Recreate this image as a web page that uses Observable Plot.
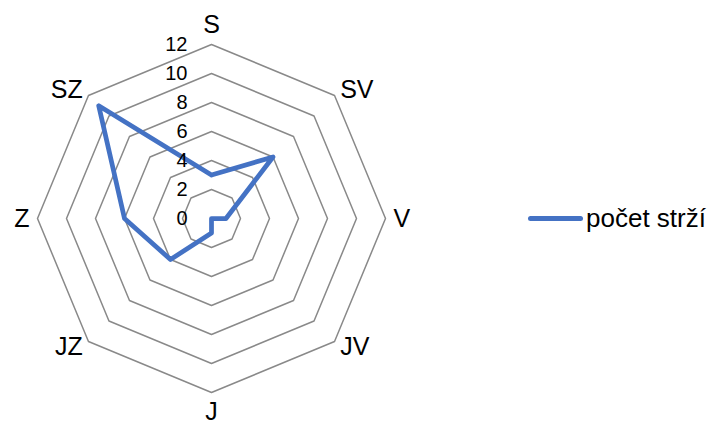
<!DOCTYPE html>
<html>
<head>
<meta charset="utf-8">
<script src="https://cdn.jsdelivr.net/npm/d3@7"></script>
<script src="https://cdn.jsdelivr.net/npm/@observablehq/plot@0.6"></script>
<style>
  html, body { margin: 0; padding: 0; background: #fff; }
  #wrap { position: relative; width: 712px; height: 423px; font-family: "Liberation Sans", Arial, sans-serif; }
  #legend { position: absolute; left: 528px; top: 203px; display: flex; align-items: center; font-size: 26px; color: #000; }
  #legend .sw { width: 55px; height: 5px; background: #4472C4; border-radius: 3px; margin-right: 3px; }
</style>
</head>
<body>
<div id="wrap"><div id="legend"><span class="sw"></span><span id="legendText"></span></div></div>
<script>
const categories = ["S", "SV", "V", "JV", "J", "JZ", "Z", "SZ"];
const values = [3, 6, 1, 0, 1, 4, 6, 11];
const ticks = [0, 2, 4, 6, 8, 10, 12];
const seriesName = "počet strží";

const n = categories.length;
const ang = i => (2 * Math.PI * i) / n;
const px = (r, i) => r * Math.sin(ang(i));
const py = (r, i) => r * Math.cos(ang(i));

const W = 712, H = 423, cx = 211, cy = 218, unit = 14.5;

const rings = ticks.filter(t => t > 0).flatMap(t =>
  d3.range(n + 1).map(i => ({ ring: t, x: px(t, i % n), y: py(t, i % n) }))
);
const series = d3.range(n + 1).map(i => ({ x: px(values[i % n], i % n), y: py(values[i % n], i % n) }));
const labels = categories.map((c, i) => {
  const s = Math.round(Math.sin(ang(i)) * 1000) / 1000;
  const r = Math.abs(s) < 0.01 ? 13.35 : 12.55;
  return { c, x: px(r, i), y: py(r, i), anchor: s > 0.01 ? "start" : s < -0.01 ? "end" : "middle" };
});

const chart = Plot.plot({
  width: W,
  height: H,
  margin: 0,
  x: { domain: [-cx / unit, (W - cx) / unit], range: [0, W], axis: null },
  y: { domain: [-(H - cy) / unit, cy / unit], range: [H, 0], axis: null },
  style: { fontFamily: "'Liberation Sans', Arial, sans-serif", background: "#fff" },
  marks: [
    Plot.line(rings, { x: "x", y: "y", z: "ring", stroke: "#898989", strokeWidth: 1.5 }),
    Plot.line(series, { x: "x", y: "y", stroke: "#4472C4", strokeWidth: 4.75, strokeLinejoin: "round", strokeLinecap: "round" }),
    Plot.text(ticks, { x: () => 0, y: d => d, text: d => String(d), textAnchor: "end", dx: -24, fontSize: 20, fill: "#000" }),
    ...["start", "middle", "end"].map(a =>
      Plot.text(labels.filter(d => d.anchor === a), { x: "x", y: "y", text: "c", textAnchor: a, fontSize: 25, fill: "#000" })
    )
  ]
});
document.getElementById("wrap").prepend(chart);
document.getElementById("legendText").textContent = seriesName;
</script>
</body>
</html>
